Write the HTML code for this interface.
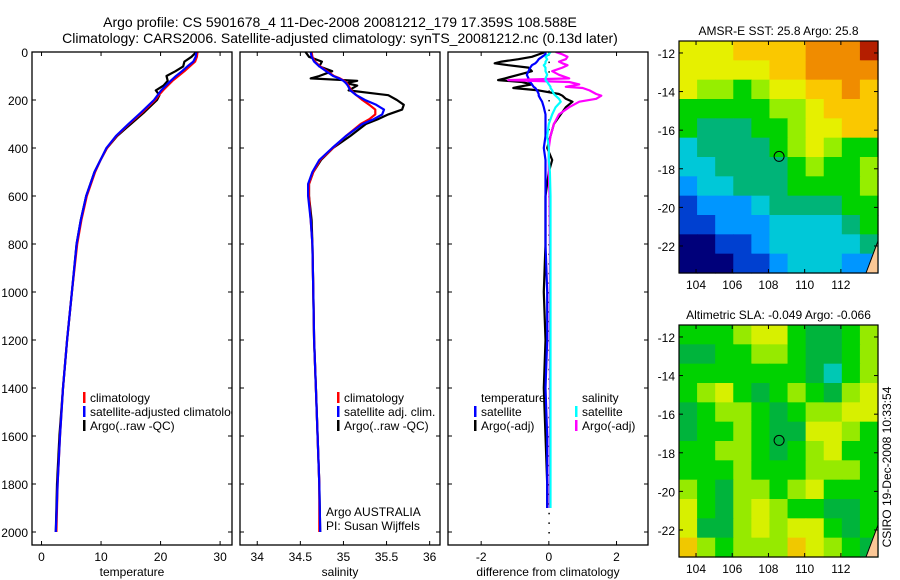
<!DOCTYPE html>
<html><head><meta charset="utf-8"><style>
body{margin:0;background:#fff;}
svg{display:block;font-family:"Liberation Sans",sans-serif;}
</style></head><body>
<svg id="fig" width="900" height="580" viewBox="0 0 900 580" xmlns="http://www.w3.org/2000/svg">
<rect width="900" height="580" fill="#fff"/>
<text x="340" y="27" font-size="14" text-anchor="middle">Argo profile: CS 5901678_4 11-Dec-2008 20081212_179 17.359S 108.588E</text>
<text x="340" y="43" font-size="14" text-anchor="middle">Climatology: CARS2006. Satellite-adjusted climatology: synTS_20081212.nc (0.13d later)</text>
<text x="891" y="467" font-size="12" text-anchor="middle" transform="rotate(-90 891 467)">CSIRO 19-Dec-2008 10:33:54</text>
</svg>
<script>
// ---- profile data ----
const tDepth = [0,20,40,60,80,100,120,140,160,180,200,250,300,350,400,450,500,600,700,800,1000,1200,1400,1600,1800,2000];
const tSat   = [26.0,25.9,25.5,24.5,23.6,22.6,21.7,20.9,20.1,19.5,18.9,16.8,14.6,12.5,10.9,9.9,8.9,7.5,6.6,5.9,5.1,4.3,3.6,3.1,2.7,2.4];
const tClim  = [26.2,26.1,25.8,24.9,24.0,23.0,22.0,21.2,20.4,19.7,19.1,17.0,14.7,12.6,11.0,9.9,9.0,7.6,6.7,6.0,5.1,4.3,3.6,3.1,2.7,2.5];
const tArgo  = [26.0,25.2,24.0,23.8,22.5,21.0,21.2,20.5,19.2,19.8,19.4,17.3,15.0,12.7,11.0,9.9,8.9,7.5,6.6,5.9,5.1,4.3,3.6,3.0,2.6,2.4];
const sDepth = [0,20,40,60,80,100,110,120,130,140,160,180,200,220,240,260,280,300,350,400,450,500,550,600,700,800,1000,1200,1400,1600,1800,2000];
const sArgo  = [34.56,34.6,34.75,34.72,34.87,34.72,34.62,35.16,35.03,35.16,35.06,35.52,35.62,35.70,35.68,35.52,35.4,35.26,35.08,34.88,34.74,34.65,34.6,34.6,34.63,34.64,34.65,34.66,34.68,34.70,34.72,34.73];
const sSat   = [34.62,34.63,34.66,34.72,34.8,34.88,34.95,35.0,35.03,35.05,35.08,35.15,35.25,35.38,35.47,35.45,35.35,35.22,35.03,34.87,34.72,34.64,34.59,34.59,34.62,34.64,34.65,34.66,34.68,34.70,34.72,34.73];
const sClim  = [34.63,34.64,34.67,34.73,34.81,34.89,34.96,35.01,35.04,35.06,35.09,35.15,35.22,35.3,35.37,35.37,35.3,35.2,35.03,34.88,34.73,34.65,34.6,34.6,34.62,34.64,34.65,34.66,34.68,34.70,34.72,34.72];
const dDepth = [0,10,20,30,40,47,55,65,80,95,110,117,125,135,145,150,160,175,182,195,207,230,260,300,350,400,450,500,600,800,1000,1200,1400,1600,1800,1900];
const dTArgo = [-0.1,-0.3,-0.5,-0.9,-1.4,-1.6,-1.2,-0.6,-0.5,-0.9,-1.3,-1.5,-0.8,-0.5,-0.9,-1.05,-0.3,0.3,0.4,0.5,0.7,0.5,0.35,0.15,0.05,-0.05,0.1,0.0,-0.1,-0.1,-0.15,-0.1,-0.15,-0.1,-0.05,-0.05];
const dTSat  = [-0.1,-0.1,-0.2,-0.3,-0.35,-0.4,-0.5,-0.55,-0.6,-0.65,-0.6,-0.65,-0.55,-0.5,-0.45,-0.4,-0.35,-0.3,-0.3,-0.25,-0.2,-0.15,-0.1,-0.1,-0.1,-0.15,-0.1,-0.1,-0.1,-0.1,-0.05,-0.05,-0.1,-0.05,-0.05,-0.05];
const dSArgo = [0.2,0.4,0.55,0.5,0.3,0.4,0.55,0.4,0.1,0.3,0.6,-1.2,0.6,0.9,0.5,1.0,1.2,1.4,1.55,1.4,0.9,0.6,0.3,0.15,0.05,0,0,0,0.02,0.03,0.03,0.03,0.03,0.03,0.03,0.03];
const dSSat  = [0.05,0.0,-0.1,-0.05,-0.1,-0.1,-0.15,-0.1,-0.1,-0.05,-0.1,-0.1,-0.05,0.0,0.05,0.05,0.1,0.15,0.2,0.3,0.35,0.2,0.1,0.0,-0.05,0.0,0.0,0.03,0.05,0.05,0.05,0.05,0.05,0.05,0.05,0.05];
const depthTicks = [0,200,400,600,800,1000,1200,1400,1600,1800,2000];
const tTicks = [0,10,20,30];
const sTicks = [34,34.5,35,35.5,36];
const sTickLabels = ["34","34.5","35","35.5","36"];
const dTicks = [-2,0,2];
// ---- map data (levels) ----
const sstGrid = [
[7,7,7,8,8,8,8,9,9,9,10],
[7,7,7,7,7,8,8,9,9,9,9],
[7,6,6,5,6,7,7,8,8,9,8],
[5,5,5,5,5,6,6,7,8,8,8],
[5,4,4,4,5,5,6,7,7,8,8],
[3,4,4,4,4,5,6,7,6,5,5],
[3,3,4,4,4,4,5,6,5,5,6],
[2,3,3,4,4,4,5,5,5,5,6],
[1,2,2,2,3,4,4,4,4,5,5],
[1,1,2,2,2,3,3,3,3,4,5],
[0,0,1,1,2,3,3,3,3,3,4],
[0,0,0,1,1,2,3,3,3,2,2]];
const slaGrid = [
[2,2,2,3,4,4,2,1,1,2,3],
[1,1,2,2,3,3,2,1,1,2,3],
[2,2,2,2,2,2,2,1,0,2,3],
[2,3,4,2,1,2,3,2,1,3,4],
[1,2,3,3,2,1,2,3,3,4,4],
[1,2,2,3,2,1,1,4,4,3,2],
[2,2,3,3,2,1,2,3,4,2,2],
[2,2,2,3,2,2,2,3,3,3,2],
[3,2,1,3,3,2,3,4,2,2,2],
[4,2,1,3,4,3,2,2,1,1,2],
[4,1,1,3,4,3,4,4,2,1,2],
[5,3,2,3,3,3,5,4,3,2,1]];
const sstColors = ["#00007a","#0040d0","#0096ff","#00c8d8","#00b478","#00d200","#96ee00","#e6f000","#fac800","#f08c00","#b41e00"];
const slaColors = ["#00c8b4","#00b43c","#00d200","#96ea00","#d7f000","#f0c800"];
const latTicks = [-12,-14,-16,-18,-20,-22];
const lonTicks = [104,106,108,110,112];
const argoLon = 108.588, argoLat = -17.359;

const NS="http://www.w3.org/2000/svg";
const svg=document.getElementById('fig');
function el(tag,attrs,parent){const e=document.createElementNS(NS,tag);for(const k in attrs)e.setAttribute(k,attrs[k]);(parent||svg).appendChild(e);return e;}
function txt(x,y,s,size,anchor,parent){const t=el('text',{x:x,y:y,'font-size':size,'text-anchor':anchor||'start'},parent);t.textContent=s;return t;}

const Y0=52, YS=0.24, PB=545;
const yD=d=>Y0+d*YS;
const panels=[
 {x0:32,x1:232,vmin:-1.6,vmax:32.0,name:'temperature-panel',label:'temperature'},
 {x0:240,x1:440,vmin:33.8,vmax:36.12,name:'salinity-panel',label:'salinity'},
 {x0:448,x1:648,vmin:-2.98,vmax:2.93,name:'difference-panel',label:'difference from climatology'}];
function xf(p){return v=>p.x0+(v-p.vmin)/(p.vmax-p.vmin)*(p.x1-p.x0);}

function series(g,p,depths,vals,color,name){
  const fx=xf(p);let d='';
  for(let i=0;i<depths.length;i++)d+=(i?'L':'M')+fx(vals[i]).toFixed(1)+' '+yD(depths[i]).toFixed(1);
  const path=el('path',{d:d,fill:'none',stroke:color,'stroke-width':2.2,'stroke-linejoin':'round'},g);
  
  
}

panels.forEach((p,pi)=>{
  const g=el('g',{});
  
  
  const clipId='clip'+pi;
  const cp=el('clipPath',{id:clipId},g);el('rect',{x:p.x0,y:Y0,width:p.x1-p.x0,height:PB-Y0},cp);
  const fx=xf(p);
  // y ticks
  depthTicks.forEach(d=>{
    el('line',{x1:p.x0,x2:p.x0+4,y1:yD(d),y2:yD(d),stroke:'#000'},g);
    el('line',{x1:p.x1,x2:p.x1-4,y1:yD(d),y2:yD(d),stroke:'#000'},g);
    if(pi===0){const t=txt(p.x0-4,yD(d)+5,String(d),12,'end',g);
      
      }
  });
  const ticks=pi===0?tTicks:pi===1?sTicks:dTicks;
  ticks.forEach((v,i)=>{
    const x=fx(v);
    el('line',{x1:x,x2:x,y1:Y0,y2:Y0+4,stroke:'#000'},g);
    el('line',{x1:x,x2:x,y1:PB,y2:PB-4,stroke:'#000'},g);
    const t=txt(x,PB+16,pi===1?sTickLabels[i]:String(v),12,'middle',g);
    
    
  });
  const xl=txt((p.x0+p.x1)/2,PB+31,p.label,12,'middle',g);
  
  
  const cg=el('g',{'clip-path':'url(#'+clipId+')'},g);
  if(pi===0){
    series(cg,p,tDepth,tArgo,'#000','argo-temperature-line');
    series(cg,p,tDepth,tClim,'#f00','climatology-temperature-line');
    series(cg,p,tDepth,tSat,'#00f','satellite-temperature-line');
  } else if(pi===1){
    series(cg,p,sDepth,sArgo,'#000','argo-salinity-line');
    series(cg,p,sDepth,sClim,'#f00','climatology-salinity-line');
    series(cg,p,sDepth,sSat,'#00f','satellite-salinity-line');
  } else {
    for(let d=0;d<=2000;d+=40)el('rect',{x:fx(0)-0.5,y:yD(d),width:1.5,height:1.5,fill:'#000'},cg);
    series(cg,p,dDepth,dTArgo,'#000','argo-temp-diff-line');
    series(cg,p,dDepth,dTSat,'#00f','satellite-temp-diff-line');
    series(cg,p,dDepth,dSArgo,'#f0f','argo-sal-diff-line');
    series(cg,p,dDepth,dSSat,'#0ff','satellite-sal-diff-line');
  }
  el('rect',{x:p.x0,y:Y0,width:p.x1-p.x0,height:PB-Y0,fill:'none',stroke:'#000','stroke-width':1.3},g);
});

// legends
function legRow(x,y,color,label,name){
  if(color)el('rect',{x:x,y:y-10,width:2.5,height:11,fill:color});
  const t=txt(x+7,y,label,12,'start');
  
  
}
const lg1=el('g',{'clip-path':'url(#clip0)'});
[['#f00','climatology',402],['#00f','satellite-adjusted climatology',416],['#000','Argo(..raw -QC)',430]].forEach(r=>{
  el('rect',{x:83,y:r[2]-10,width:2.5,height:11,fill:r[0]},lg1);
  const t=txt(90,r[2],r[1],12,'start',lg1);
  
  
});
legRow(337,402,'#f00','climatology','salinity-legend-entry');
legRow(337,416,'#00f','satellite adj. clim.','salinity-legend-entry');
legRow(337,430,'#000','Argo(..raw -QC)','salinity-legend-entry');
legRow(474,402,null,'temperature','diff-legend-header');
legRow(474,416,'#00f','satellite','diff-legend-entry');
legRow(474,430,'#000','Argo(-adj)','diff-legend-entry');
legRow(575,402,null,'salinity','diff-legend-header');
legRow(575,416,'#0ff','satellite','diff-legend-entry');
legRow(575,430,'#f0f','Argo(-adj)','diff-legend-entry');
let t1=txt(326,516,'Argo AUSTRALIA',12,'start');


let t2=txt(326,530,'PI: Susan Wijffels',12,'start');



// maps
const LON0=103.06, LON1=114.05, LAT0=-11.38, LAT1=-23.4;
function drawMap(top,grid,colors,title,name){
  const g=el('g',{});
  
  
  const X0=679,X1=878,Y1=top+232;
  const mx=lon=>X0+(lon-LON0)/(LON1-LON0)*(X1-X0);
  const my=lat=>top+(lat-LAT0)/(LAT1-LAT0)*(Y1-top);
  const rows=grid.length, cols=grid[0].length;
  const cw=(X1-X0)/cols, ch=(Y1-top)/rows;
  for(let r=0;r<rows;r++)for(let c=0;c<cols;c++){
    el('rect',{x:X0+c*cw,y:top+r*ch,width:cw+0.6,height:ch+0.6,fill:colors[grid[r][c]]},g);
  }
  // land
  el('polygon',{points:`${X1},${Y1-32} ${X1},${Y1} ${X1-12},${Y1}`,fill:'#fac896',stroke:'#000','stroke-width':1},g);
  el('circle',{cx:mx(argoLon),cy:my(argoLat),r:5,fill:'none',stroke:'#000','stroke-width':1},g);
  el('rect',{x:X0,y:top,width:X1-X0,height:Y1-top,fill:'none',stroke:'#000','stroke-width':1.2},g);
  latTicks.forEach(l=>{const y=my(l);
    el('line',{x1:X0,x2:X0+4,y1:y,y2:y,stroke:'#000'},g);el('line',{x1:X1,x2:X1-4,y1:y,y2:y,stroke:'#000'},g);
    const t=txt(X0-4,y+5,String(l),12,'end',g);
    
    });
  lonTicks.forEach(l=>{const x=mx(l);
    el('line',{x1:x,x2:x,y1:top,y2:top+4,stroke:'#000'},g);el('line',{x1:x,x2:x,y1:Y1,y2:Y1-4,stroke:'#000'},g);
    const t=txt(x,Y1+16,String(l),12,'middle',g);
    
    });
  const tt=txt((X0+X1)/2,top-6,title,12,'middle',g);
  
  
}
drawMap(41,sstGrid,sstColors,'AMSR-E SST: 25.8 Argo: 25.8','sst-map');
drawMap(325,slaGrid,slaColors,'Altimetric SLA: -0.049 Argo: -0.066','sla-map');
</script>
</body></html>
